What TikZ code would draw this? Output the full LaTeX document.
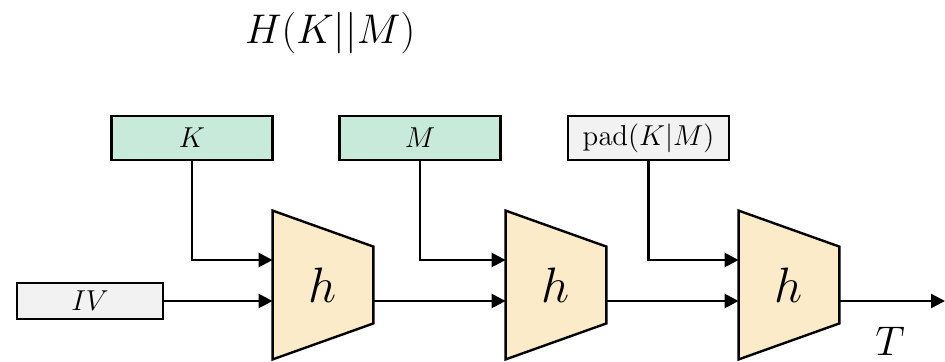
\documentclass[tikz,border=0pt]{standalone}
\usepackage{amsmath,amssymb}
\usepackage{xcolor}
\usepackage{tikz}
\usetikzlibrary{arrows.meta,positioning,calc,backgrounds}
\definecolor{keybg}{HTML}{C8EADB}
\definecolor{padbg}{HTML}{F2F2F2}
\definecolor{hashbg}{HTML}{FCEBC8}

\begin{document}
\begin{tikzpicture}[
  x=0.5pt, y=-0.5pt,
  inbox/.style={
    draw=black, line width=1.2pt, rectangle,
    minimum width=80.5pt, minimum height=22pt, inner sep=0pt,
    font=\fontsize{14}{16}\selectfont
  },
  hashbox/.style={
    rectangle, minimum width=50pt, minimum height=74pt, inner sep=0pt,
    font=\fontsize{26}{30}\selectfont
  },
  hashfn/.style={draw=black, fill=hashbg, line width=1.2pt, line join=miter},
  arr/.style={-{Triangle[length=7pt,width=7pt]}, black, line width=1.2pt}
]
  \useasboundingbox (0,0) rectangle (945,361);

  \node[font=\fontsize{20}{24}\selectfont] (title) at (330,33) {$H(K||M)$};

  \node[inbox, fill=keybg] (key) at (192,138) {$K$};
  \node[inbox, fill=keybg] (msg) at (420,138) {$M$};
  \node[inbox, fill=padbg] (pad) at (648.5,138) {$\mathrm{pad}(K|M)$};
  \node[inbox, fill=padbg, minimum width=73pt, minimum height=18pt] (iv) at (90,301) {$IV$};

  \node[hashbox] (h1) at (323,285) {$h$};
  \node[hashbox] (h2) at (556,285) {$h$};
  \node[hashbox] (h3) at (789,285) {$h$};

  \begin{scope}[on background layer]
    \draw[hashfn] (h1.north west) -- ([yshift=-18pt]h1.north east)
      -- ([yshift=18pt]h1.south east) -- (h1.south west) -- cycle;
    \draw[hashfn] (h2.north west) -- ([yshift=-18pt]h2.north east)
      -- ([yshift=18pt]h2.south east) -- (h2.south west) -- cycle;
    \draw[hashfn] (h3.north west) -- ([yshift=-18pt]h3.north east)
      -- ([yshift=18pt]h3.south east) -- (h3.south west) -- cycle;
  \end{scope}

  \coordinate (out) at (945,301);
  \node[font=\fontsize{22}{26}\selectfont, inner sep=0pt] (tag) at (890,341) {$T$};

  \draw[arr] (key.south) |- ([yshift=12.5pt]h1.west);
  \draw[arr] (msg.south) |- ([yshift=12.5pt]h2.west);
  \draw[arr] (pad.south) |- ([yshift=12.5pt]h3.west);

  \draw[arr] (iv.east) -- (iv.east -| h1.west);
  \draw[arr] ([yshift=-8pt]h1.east) -- ([yshift=-8pt]h2.west);
  \draw[arr] ([yshift=-8pt]h2.east) -- ([yshift=-8pt]h3.west);
  \draw[arr] ([yshift=-8pt]h3.east) -- (out);
\end{tikzpicture}
\end{document}
